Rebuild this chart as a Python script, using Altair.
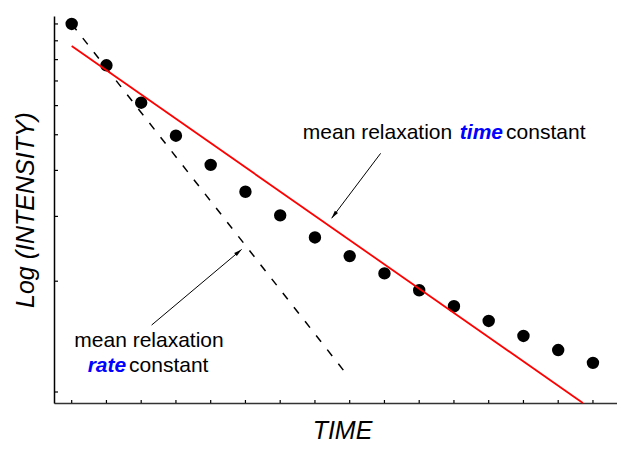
import altair as alt
import pandas as pd

FONT = "Liberation Sans"

# measurements: time step and intensity (plotted on a log axis)
time_pts = list(range(16))
intensity = [10.0, 7.72, 6.11, 4.97, 4.14, 3.50, 3.02, 2.63,
             2.34, 2.10, 1.89, 1.71, 1.56, 1.42, 1.30, 1.20]

# straight fits (end points)
time_fit_t = [0, 14.71]
time_fit_i = [8.71, 0.934]
rate_fit_t = [0, 7.95]
rate_fit_i = [10.0, 1.105]

# tick positions
x_ticks = list(range(16))
y_ticks = [1, 2, 3, 4, 5, 6, 7, 8, 9, 10]

# annotation pieces
ann_text = ["mean relaxation", "time", "constant", "mean relaxation", "rate", "constant"]
ann_t = [6.65, 11.17, 12.50, 0.075, 0.46, 1.65]
ann_i = [4.855, 4.855, 4.855, 1.328, 1.136, 1.136]
ann_kind = ["plain", "em", "plain", "plain", "em", "plain"]

# arrows: tail -> head
arrow_t0 = [8.89, 2.30]
arrow_i0 = [4.45, 1.52]
arrow_t1 = [7.48, 4.89]
arrow_i1 = [2.965, 2.44]
arrow_ang = [217, 50]

dots = pd.DataFrame({"t": time_pts, "v": intensity})
fit_time = pd.DataFrame({"t": time_fit_t, "v": time_fit_i})
fit_rate = pd.DataFrame({"t": rate_fit_t, "v": rate_fit_i})
xt = pd.DataFrame({"t": x_ticks})
yt = pd.DataFrame({"v": y_ticks})
ann = pd.DataFrame({"txt": ann_text, "t": ann_t, "v": ann_i, "kind": ann_kind})
arrows = pd.DataFrame({"t": arrow_t0, "v": arrow_i0, "t2": arrow_t1, "v2": arrow_i1, "ang": arrow_ang})

# total width must stay within the page body (609px) or the svg gets shrunk
W, H = 563, 387
x_scale = alt.Scale(domain=[-0.509, 15.692], nice=False, zero=False)
y_scale = alt.Scale(type="log", domain=[0.9335, 10.51], nice=False)

x_axis = alt.Axis(title="TIME", labels=False, ticks=False, grid=False,
                  domainColor="#333333", domainWidth=1.5,
                  titleFont=FONT, titleFontSize=25, titleFontStyle="italic",
                  titleFontWeight="normal", titleColor="black",
                  titleX=288, titleY=35, titleAlign="center", titleBaseline="alphabetic")
y_axis = alt.Axis(title="Log (INTENSITY)", labels=False, ticks=False, grid=False,
                  domainColor="black", domainWidth=1.5,
                  titleFont=FONT, titleFontSize=25, titleFontStyle="italic",
                  titleFontWeight="normal", titleColor="black", titleAngle=270,
                  titleX=-21, titleY=193.5, titleAlign="center", titleBaseline="alphabetic")


def X(f="t"):
    return alt.X(f"{f}:Q", scale=x_scale, axis=x_axis)


def Y(f="v"):
    return alt.Y(f"{f}:Q", scale=y_scale, axis=y_axis)


ytick_layer = alt.Chart(yt).mark_rule(color="black", strokeWidth=1.2).encode(
    y=Y(), x=alt.value(0), x2=alt.value(4))
xtick_layer = alt.Chart(xt).mark_rule(color="black", strokeWidth=1.2).encode(
    x=X(), y=alt.value(H), y2=alt.value(H - 3))

dot_layer = alt.Chart(dots).mark_circle(size=154, color="black", opacity=1).encode(x=X(), y=Y())

rate_layer = alt.Chart(fit_rate).mark_line(color="black", strokeWidth=1.5, strokeDash=[8, 10]).encode(
    x=X(), y=Y())
time_layer = alt.Chart(fit_time).mark_line(color="#ff0000", strokeWidth=1.8).encode(x=X(), y=Y())

arrow_layer = alt.Chart(arrows).mark_rule(color="black", strokeWidth=1).encode(
    x=X(), y=Y(), x2="t2:Q", y2="v2:Q")
head_layer = alt.Chart(arrows).mark_point(
    shape="M0,0 L0.5,2 L-0.5,2 Z", filled=True, size=64, color="black", opacity=1
).encode(x=X("t2"), y=Y("v2"), angle=alt.Angle("ang:Q", scale=None))

plain_text = alt.Chart(ann).transform_filter("datum.kind == 'plain'").mark_text(
    align="left", baseline="alphabetic", font=FONT, fontSize=21, color="black"
).encode(x=X(), y=Y(), text="txt:N")
em_text = alt.Chart(ann).transform_filter("datum.kind == 'em'").mark_text(
    align="left", baseline="alphabetic", font=FONT, fontSize=21, color="#0000ff",
    fontStyle="italic", fontWeight="bold"
).encode(x=X(), y=Y(), text="txt:N")

chart = alt.layer(
    ytick_layer, xtick_layer, dot_layer, rate_layer, time_layer,
    arrow_layer, head_layer, plain_text, em_text
).properties(
    width=W, height=H, autosize="none",
    padding={"left": 46, "top": 8, "right": 0, "bottom": 41},
    background="white"
).configure_view(stroke=None)

chart.save("out.html", embed_options={"renderer": "svg", "actions": False})
